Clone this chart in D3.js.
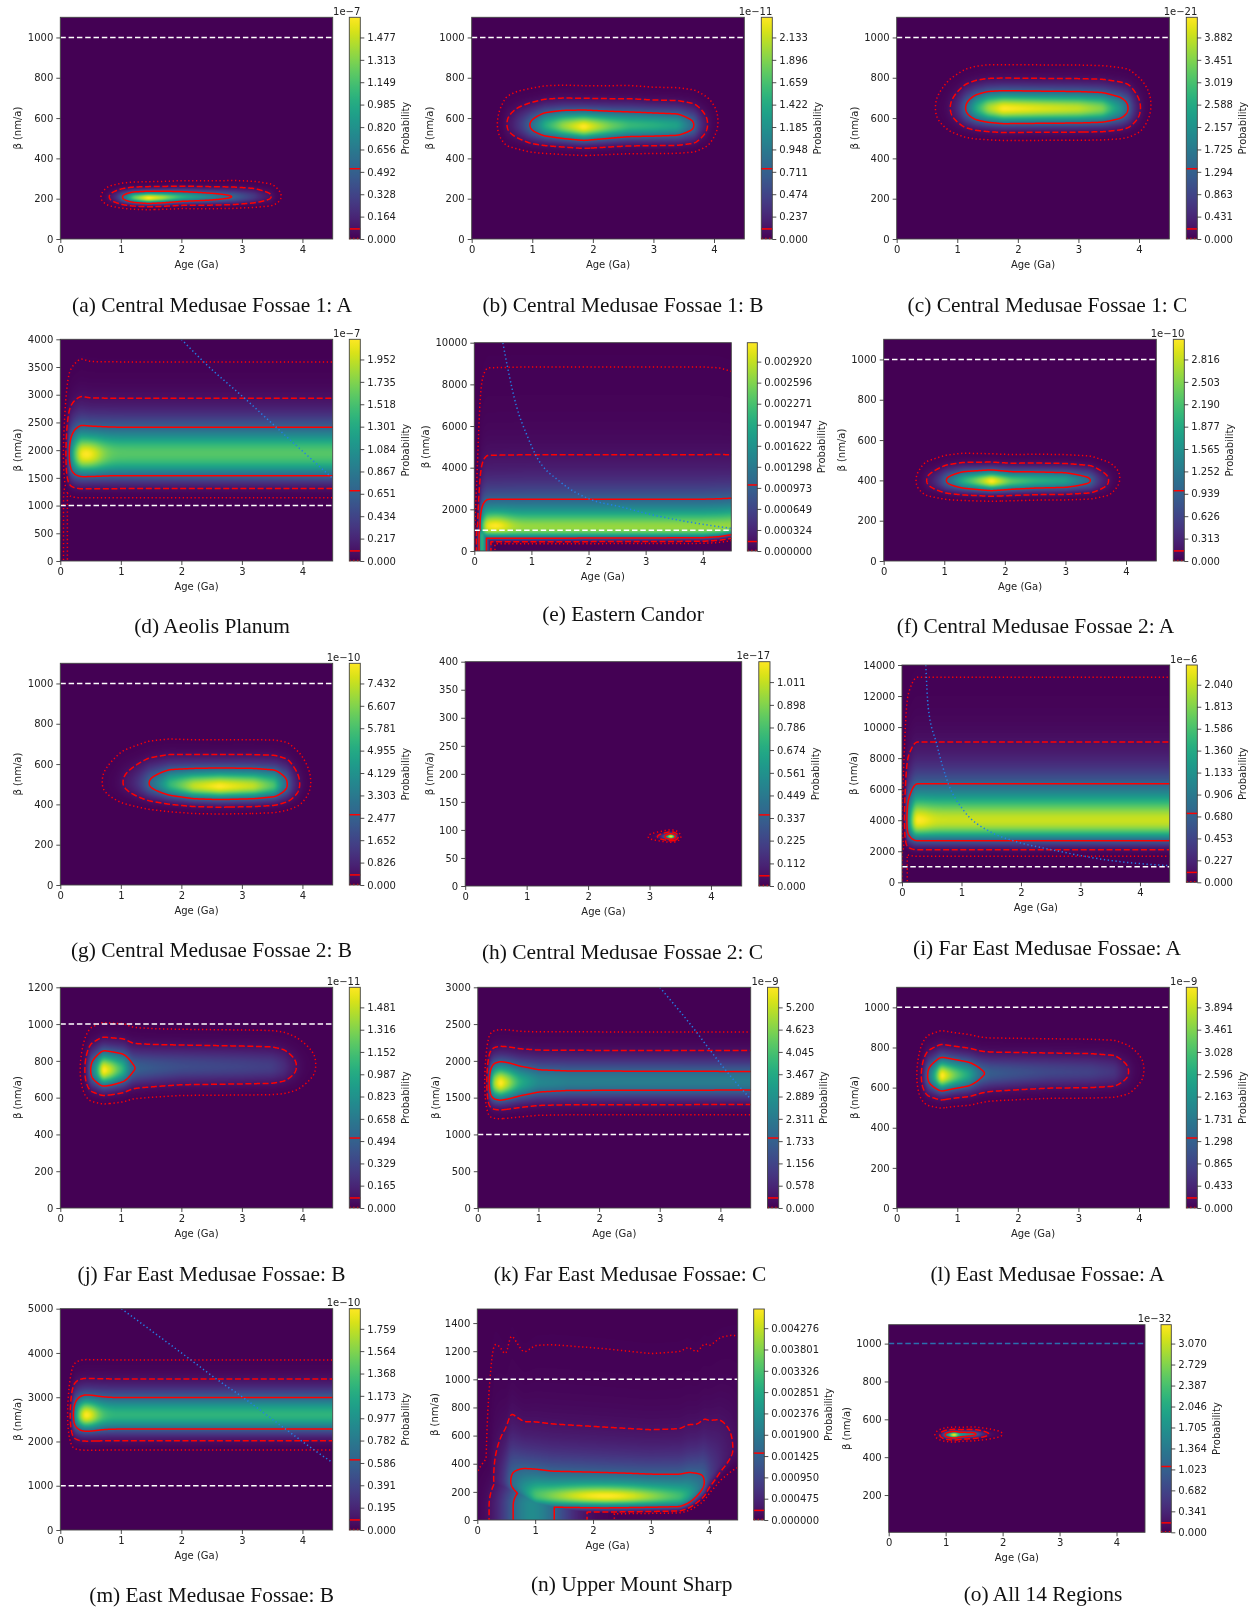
<!DOCTYPE html>
<html>
<head>
<meta charset="utf-8">
<title>Age and beta probability maps</title>
<script src="https://cdn.jsdelivr.net/npm/d3@7"></script>
<style>
  html, body { margin: 0; background: #fff; }
  svg { display: block; filter: blur(0.35px); }
  .axis text, .label, .offset { font-family: "DejaVu Sans", sans-serif; font-size: 10px; fill: #222; }
  .axis line { stroke: #222; stroke-width: 0.8; }
  .axis path { display: none; }
  .caption { font-family: "Liberation Serif", serif; font-size: 21.4px; fill: #111; text-anchor: middle; }
  .frame { fill: none; stroke: #444; stroke-width: 0.9; }
  .level { fill: none; stroke: #f00; stroke-width: 1.5; }
</style>
</head>
<body>
<script>
const captions = [
  '(a) Central Medusae Fossae 1: A', '(b) Central Medusae Fossae 1: B', '(c) Central Medusae Fossae 1: C',
  '(d) Aeolis Planum', '(e) Eastern Candor', '(f) Central Medusae Fossae 2: A',
  '(g) Central Medusae Fossae 2: B', '(h) Central Medusae Fossae 2: C', '(i) Far East Medusae Fossae: A',
  '(j) Far East Medusae Fossae: B', '(k) Far East Medusae Fossae: C', '(l) East Medusae Fossae: A',
  '(m) East Medusae Fossae: B', '(n) Upper Mount Sharp', '(o) All 14 Regions'
];

const ageTicks = [0, 1, 2, 3, 4];
const ageMax = 4.5;
const betaTicks = [
  [0, 200, 400, 600, 800, 1000], [0, 200, 400, 600, 800, 1000], [0, 200, 400, 600, 800, 1000],
  [0, 500, 1000, 1500, 2000, 2500, 3000, 3500, 4000], [0, 2000, 4000, 6000, 8000, 10000], [0, 200, 400, 600, 800, 1000],
  [0, 200, 400, 600, 800, 1000], [0, 50, 100, 150, 200, 250, 300, 350, 400], [0, 2000, 4000, 6000, 8000, 10000, 12000, 14000],
  [0, 200, 400, 600, 800, 1000, 1200], [0, 500, 1000, 1500, 2000, 2500, 3000], [0, 200, 400, 600, 800, 1000],
  [0, 1000, 2000, 3000, 4000, 5000], [0, 200, 400, 600, 800, 1000, 1200, 1400], [200, 400, 600, 800, 1000]
];
const betaDomains = [
  [0, 1100], [0, 1100], [0, 1100], [0, 4000], [0, 10000], [0, 1100], [0, 1100], [0, 400],
  [0, 14000], [0, 1200], [0, 3000], [0, 1100], [0, 5000], [0, 1500], [3, 1100]
];

const barTicks = [
  ['0.000', '0.164', '0.328', '0.492', '0.656', '0.820', '0.985', '1.149', '1.313', '1.477'],
  ['0.000', '0.237', '0.474', '0.711', '0.948', '1.185', '1.422', '1.659', '1.896', '2.133'],
  ['0.000', '0.431', '0.863', '1.294', '1.725', '2.157', '2.588', '3.019', '3.451', '3.882'],
  ['0.000', '0.217', '0.434', '0.651', '0.867', '1.084', '1.301', '1.518', '1.735', '1.952'],
  ['0.000000', '0.000324', '0.000649', '0.000973', '0.001298', '0.001622', '0.001947', '0.002271', '0.002596', '0.002920'],
  ['0.000', '0.313', '0.626', '0.939', '1.252', '1.565', '1.877', '2.190', '2.503', '2.816'],
  ['0.000', '0.826', '1.652', '2.477', '3.303', '4.129', '4.955', '5.781', '6.607', '7.432'],
  ['0.000', '0.112', '0.225', '0.337', '0.449', '0.561', '0.674', '0.786', '0.898', '1.011'],
  ['0.000', '0.227', '0.453', '0.680', '0.906', '1.133', '1.360', '1.586', '1.813', '2.040'],
  ['0.000', '0.165', '0.329', '0.494', '0.658', '0.823', '0.987', '1.152', '1.316', '1.481'],
  ['0.000', '0.578', '1.156', '1.733', '2.311', '2.889', '3.467', '4.045', '4.623', '5.200'],
  ['0.000', '0.433', '0.865', '1.298', '1.731', '2.163', '2.596', '3.028', '3.461', '3.894'],
  ['0.000', '0.195', '0.391', '0.586', '0.782', '0.977', '1.173', '1.368', '1.564', '1.759'],
  ['0.000000', '0.000475', '0.000950', '0.001425', '0.001900', '0.002376', '0.002851', '0.003326', '0.003801', '0.004276'],
  ['0.000', '0.341', '0.682', '1.023', '1.364', '1.705', '2.046', '2.387', '2.729', '3.070']
];
const barOffsets = ['1e\u22127', '1e\u221211', '1e\u221221', '1e\u22127', '', '1e\u221210', '1e\u221210', '1e\u221217',
  '1e\u22126', '1e\u221211', '1e\u22129', '1e\u22129', '1e\u221210', '', '1e\u221232'];

// contour levels as a share of the map maximum: solid, dashed, dotted
const levels = [0.317, 0.0455, 0.0027];

// ridge of each map, one row per age: age, peak share, beta, log width below, log width above
const ridgeA = [[.55, 1e-4, 210, .1, .093], [.67, .0027, 210, .1, .093], [.8, .0455, 210, .1, .093], [1.03, .33, 208, .1, .093], [1.2, .72, 207, .1, .093], [1.45, 1, 205, .1, .095], [1.7, .85, 207, .1, .095], [2, .62, 210, .1, .097], [2.5, .42, 210, .105, .1], [2.87, .3, 210, .105, .105], [3.2, .16, 212, .105, .105], [3.5, .045, 212, .105, .105], [3.65, .0027, 212, .105, .105], [3.8, 1e-4, 212, .105, .105]];
const ridgeB = [[.3, 1e-4, 570, .087, .09], [.42, .0027, 570, .087, .09], [.57, .0455, 570, .087, .09], [.75, .13, 570, .087, .09], [.97, .33, 565, .087, .09], [1.2, .6, 565, .087, .09], [1.5, .82, 563, .087, .09], [1.85, 1, 558, .087, .09], [2.3, .76, 562, .087, .09], [2.6, .66, 565, .087, .09], [3, .62, 565, .087, .087], [3.4, .56, 565, .087, .087], [3.68, .317, 565, .087, .087], [3.9, .0455, 570, .087, .087], [4.07, .0027, 585, .087, .087], [4.2, 1e-4, 585, .087, .087]];
const ridgeC = [[.5, 1e-4, 648, .082, .084], [.63, .0027, 650, .082, .084], [.88, .0455, 650, .082, .084], [1.13, .317, 650, .082, .084], [1.3, .6, 650, .082, .084], [1.5, .85, 650, .082, .084], [1.75, 1, 648, .082, .084], [2.4, .94, 648, .082, .084], [3, .9, 648, .082, .084], [3.4, .8, 648, .082, .084], [3.7, .5, 648, .082, .084], [3.83, .317, 650, .082, .084], [4.03, .0455, 650, .082, .084], [4.2, .0027, 665, .082, .084], [4.35, 1e-4, 665, .082, .084]];
const ridgeD = [[.02, 1e-4, 1950, .2, .155], [.05, .0027, 1950, .2, .155], [.085, .0455, 1950, .2, .155], [.13, .317, 1950, .2, .155], [.22, .62, 1950, .2, .155], [.33, .8, 1950, .2, .158], [.5, .78, 1950, .2, .155], [1, .76, 1950, .2, .155], [4.5, .76, 1950, .2, .155]];
const ridgeE = [[.005, .001, 1150, .56, .52], [.03, .0027, 1150, .56, .52], [.06, .1, 1150, .56, .52], [.1, .5, 1150, .56, .52], [.2, .8, 1150, .56, .52], [1, .82, 1150, .56, .52], [4, .82, 1150, .52, .52], [4.3, .82, 1170, .45, .515], [4.5, .82, 1200, .35, .505]];
const ridgeF = [[.4, 1e-4, 400, .087, .088], [.53, .0027, 400, .087, .088], [.7, .0455, 400, .087, .088], [1.03, .317, 400, .087, .088], [1.3, .6, 400, .087, .088], [1.78, 1, 397, .085, .085], [2.1, .72, 397, .085, .085], [2.5, .62, 400, .085, .085], [3, .55, 400, .085, .085], [3.42, .317, 400, .085, .085], [3.72, .0455, 400, .085, .085], [3.9, .0027, 412, .085, .085], [4.05, 1e-4, 412, .085, .085]];
const ridgeG = [[.55, 1e-4, 510, .096, .112], [.68, .0027, 510, .096, .112], [1.03, .0455, 510, .096, .112], [1.46, .317, 505, .096, .112], [1.8, .65, 500, .096, .112], [2.2, .9, 492, .096, .112], [2.63, 1, 490, .096, .112], [3.2, .9, 492, .096, .112], [3.55, .7, 495, .096, .112], [3.76, .317, 500, .096, .112], [3.96, .0455, 500, .096, .112], [4.14, .0027, 510, .096, .112], [4.3, 1e-4, 510, .096, .112]];
const ridgeH = [[2.9, 1e-4, 88, .035, .037], [2.98, .0027, 88, .035, .037], [3.15, .0455, 88, .035, .037], [3.27, .317, 88, .035, .037], [3.35, 1, 88, .035, .037], [3.42, .317, 88, .035, .037], [3.47, .0455, 88, .035, .037], [3.5, .0027, 88, .035, .037], [3.55, 1e-4, 88, .035, .037]];
const ridgeI = [[.005, .001, 4000, .29, .295], [.02, .0027, 4000, .29, .295], [.035, .0455, 4000, .29, .295], [.05, .317, 4000, .29, .295], [.1, .45, 4000, .29, .295], [.16, .7, 4000, .29, .295], [.22, .92, 4000, .29, .295], [4.5, .92, 4000, .29, .295]];
const ridgeJ = [[.25, 1e-4, 750, .082, .086], [.33, .0027, 750, .082, .086], [.4, .0455, 750, .082, .086], [.49, .317, 750, .082, .086], [.7, 1, 750, .082, .086], [.85, .85, 752, .082, .085], [1.05, .6, 757, .082, .085], [1.19, .317, 760, .08, .083], [1.3, .28, 762, .08, .082], [1.6, .25, 765, .078, .08], [2, .22, 770, .077, .078], [3, .19, 770, .077, .078], [3.5, .17, 770, .077, .078], [3.7, .12, 770, .077, .078], [3.9, .0455, 770, .077, .078], [4.23, .0027, 780, .077, .078], [4.35, 1e-4, 780, .077, .078]];
const ridgeK = [[.08, 1e-4, 1700, .098, .103], [.12, .0027, 1700, .098, .103], [.14, .0455, 1700, .098, .103], [.17, .317, 1700, .098, .103], [.25, .8, 1700, .098, .103], [.37, 1, 1700, .098, .103], [.5, .85, 1705, .098, .103], [.7, .6, 1710, .098, .103], [1, .45, 1715, .096, .104], [1.5, .41, 1720, .096, .104], [4.5, .4, 1720, .096, .104]];
const ridgeL = [[.27, 1e-4, 660, .082, .085], [.33, .0027, 660, .082, .085], [.4, .0455, 660, .082, .085], [.5, .317, 660, .082, .085], [.73, 1, 660, .082, .085], [.95, .75, 663, .08, .082], [1.2, .55, 665, .08, .08], [1.4, .317, 670, .078, .077], [1.55, .27, 672, .076, .076], [1.9, .24, 675, .075, .075], [2.5, .2, 680, .074, .073], [3.2, .18, 680, .074, .073], [3.6, .14, 680, .074, .073], [3.83, .0455, 680, .074, .073], [4.09, .0027, 690, .074, .073], [4.2, 1e-4, 690, .074, .073]];
const ridgeM = [[.08, 1e-4, 2600, .11, .118], [.12, .0027, 2600, .11, .118], [.16, .0455, 2600, .11, .118], [.2, .317, 2600, .11, .118], [.3, .6, 2600, .11, .118], [.4, .72, 2600, .11, .118], [.6, .7, 2600, .11, .118], [.9, .68, 2600, .11, .118], [4.5, .68, 2600, .11, .118]];
const ridgeN = [[.1, 1e-4, 300, .3, .7], [.13, .0027, 300, .3, .7], [.27, .0455, 300, .3, .6], [.5, .2, 290, .3, .47], [.57, .317, 285, .35, .5], [.8, .45, 240, .5, .5], [1, .55, 200, .8, .56], [1.3, .55, 185, .88, .585], [2.2, .55, 175, .88, .595], [3, .55, 170, .75, .595], [3.5, .55, 172, .7, .595], [3.65, .5, 195, .55, .57], [3.8, .4, 230, .37, .52], [3.93, .317, 270, .27, .5], [4, .2, 320, .22, .46], [4.2, .1, 420, .17, .42], [4.4, .05, 500, .17, .4], [4.5, .03, 520, .17, .418]];
const ridgeO = [[.75, 1e-4, 518, .022, .022], [.81, .0027, 518, .022, .022], [.9, .0455, 518, .022, .022], [.99, .317, 518, .022, .022], [1.15, 1, 518, .022, .022], [1.25, .45, 519, .022, .022], [1.4, .38, 521, .022, .022], [1.515, .317, 522, .022, .022], [1.74, .0455, 522, .022, .022], [2, .0027, 522, .022, .022], [2.1, 1e-4, 522, .022, .022]];
const ridges = [ridgeA, ridgeB, ridgeC, ridgeD, ridgeE, ridgeF, ridgeG, ridgeH, ridgeI, ridgeJ, ridgeK, ridgeL, ridgeM, ridgeN, ridgeO];

// young-age strips reaching beta = 0: age, width left, width right, beta top, fade, share
const strips = { 3: [.085, .02, .02, 1100, 150, .01], 4: [.13, .04, .07, 700, 400, .62], 8: [.045, .025, .025, 1700, 300, .012], 13: [.92, .33, .45, 100, 150, .48] };

// brighter spots inside the solid contour: age, age width, beta, log beta width, boost
const hotSpots = { 3: [.45, .18, 1900, .12, .32], 4: [.36, .2, 1300, .3, .22], 8: [.28, .15, 3950, .2, .087], 12: [.43, .15, 2575, .12, .47], 13: [2.2, .85, 170, .3, .82] };

// how the log width grows with distance from the ridge: below, above
const tails = { 3: [-.375, .29], 4: [-.31, .077], 8: [-.14, .156], 13: [-.375, 0] };

// blue dotted limit lines
const limitLines = {
  3: [[2, 4000], [2.41, 3550], [3.05, 2930], [3.56, 2420], [4.5, 1490]],
  4: [[.5, 10000], [.58, 8850], [.74, 6930], [.92, 5570], [1.09, 4530], [1.5, 3330], [2.03, 2480], [2.55, 2130], [3.13, 1730], [3.72, 1410], [4.5, 1085]],
  8: [[.4, 14000], [.44, 11300], [.58, 8950], [.78, 6330], [1.03, 4660], [1.48, 3260], [1.87, 2680], [2.54, 2080], [3.44, 1440], [4.5, 1065]],
  10: [[3, 3000], [3.6, 2397], [3.84, 2134], [4.2, 1760], [4.5, 1480]],
  12: [[1.01, 5000], [2.12, 3880], [2.58, 3410], [3, 3012], [3.74, 2260], [4.18, 1822], [4.5, 1520]]
};

// left, top, right, bottom, bar left, bar right, caption x, caption baseline
const boxes = [
  [60.3, 17.3, 332.7, 239, 349.3, 360.3, 212, 311.5],
  [471.7, 17.3, 744.3, 239, 761.3, 772.3, 623, 311.5],
  [896.7, 17.3, 1169.3, 239, 1186.3, 1197.3, 1047.5, 311.5],
  [60.3, 339.3, 332.7, 561, 349.3, 360.3, 212, 633],
  [474.3, 342.7, 731.3, 551, 747.3, 757.3, 623, 621],
  [883.7, 339.3, 1156.3, 561, 1173.3, 1184.3, 1035.5, 633],
  [60.3, 663.3, 332.7, 885, 349.3, 360.3, 211.5, 957],
  [465.2, 661.7, 741.7, 886, 758.8, 770, 622.5, 959],
  [902, 665, 1169.7, 882.3, 1186.3, 1197.3, 1047, 955],
  [60.3, 987.3, 332.7, 1208, 349.3, 360.3, 211.5, 1281],
  [477.8, 987.3, 750.7, 1208, 767.5, 778.7, 630, 1281],
  [896.7, 987.3, 1169.3, 1208, 1186.3, 1197.3, 1047.5, 1281],
  [60.3, 1308.7, 332.7, 1530, 349.3, 360.3, 211.7, 1602],
  [477.3, 1309, 737.7, 1520, 753.7, 764.3, 631.7, 1591],
  [888.7, 1324.7, 1145, 1532.3, 1161, 1171.3, 1043, 1601]
];

const styles = [null, '6 2.6', '1.3 2.6'];
const viridisTable = d3.range(256).map(i => d3.rgb(d3.interpolateViridis(i / 255)));

const svg = d3.select('body').append('svg').attr('width', 1255).attr('height', 1608);
const defs = svg.append('defs');

defs.append('linearGradient')
  .attr('id', 'barFill').attr('x1', 0).attr('x2', 0).attr('y1', 1).attr('y2', 0)
  .selectAll('stop').data(d3.range(33)).join('stop')
  .attr('offset', i => i / 32)
  .attr('stop-color', i => d3.interpolateViridis(i / 32));

// column tables of one ridge, lightly smoothed along age
function ridgeColumns(rows, ages) {
  const knots = rows.map(r => r[0]);
  const lookup = values => d3.scaleLinear().domain(knots).range(values).clamp(true);
  const peak = lookup(rows.map(r => Math.log(r[1])));
  const beta = lookup(rows.map(r => Math.log(r[2])));
  const low = lookup(rows.map(r => r[3]));
  const high = lookup(rows.map(r => r[4]));
  const table = fn => d3.blur(Float64Array.from(ages, fn), 3);
  return { peak: table(peak), beta: table(beta), low: table(low), high: table(high) };
}

function buildField(index, x, y, w, h, margin) {
  const nx = Math.round(w * 2) + margin * 2;
  const ny = Math.round(h * 2) + margin * 2;
  const ages = d3.range(nx).map(i => x.invert((i + 0.5 - margin) / 2));
  const betas = d3.range(ny).map(j => y.invert((j + 0.5 - margin) / 2));
  const cols = ridgeColumns(ridges[index], ages);
  const strip = strips[index];
  const spot = hotSpots[index];
  const tail = tails[index] || [0, 0];
  const values = new Float64Array(nx * ny);
  let top = 0;

  for (let j = 0; j < ny; j++) {
    const logBeta = Math.log(Math.max(betas[j], 1));
    for (let i = 0; i < nx; i++) {
      const z = logBeta - cols.beta[i];
      const s = z < 0
        ? cols.low[i] * Math.max(1 + tail[0] * -z, 0.3)
        : cols.high[i] * Math.max(1 + tail[1] * z, 0.3);
      let v = Math.exp(cols.peak[i] - 0.5 * (z / s) * (z / s));
      if (spot) {
        const da = (ages[i] - spot[0]) / spot[1];
        const db = (logBeta - Math.log(spot[2])) / spot[3];
        v *= 1 + spot[4] * Math.exp(-0.5 * (da * da + db * db));
      }
      if (strip) {
        const da = ages[i] - strip[0];
        const sa = da < 0 ? strip[1] : strip[2];
        const over = Math.max(betas[j] - strip[3], 0) / strip[4];
        v = Math.max(v, strip[5] * Math.exp(-0.5 * (da / sa) * (da / sa) - 0.5 * over * over));
      }
      values[j * nx + i] = v;
      if (v > top) top = v;
    }
  }
  for (let k = 0; k < values.length; k++) values[k] /= top;
  return { values, nx, ny };
}

function heatImage(field, margin) {
  const cw = field.nx - margin * 2;
  const ch = field.ny - margin * 2;
  const canvas = document.createElement('canvas');
  canvas.width = cw;
  canvas.height = ch;
  const ctx = canvas.getContext('2d');
  const img = ctx.createImageData(cw, ch);
  for (let j = 0; j < ch; j++) {
    for (let i = 0; i < cw; i++) {
      const c = viridisTable[Math.round(field.values[(j + margin) * field.nx + i + margin] * 255)];
      const p = (j * cw + i) * 4;
      img.data[p] = c.r;
      img.data[p + 1] = c.g;
      img.data[p + 2] = c.b;
      img.data[p + 3] = 255;
    }
  }
  ctx.putImageData(img, 0, 0);
  return canvas.toDataURL();
}

captions.forEach((caption, index) => {
  const [left, top, right, bottom, barLeft, barRight, capX, capY] = boxes[index];
  const w = right - left;
  const h = bottom - top;
  const margin = 6;
  const x = d3.scaleLinear().domain([0, ageMax]).range([0, w]);
  const y = d3.scaleLinear().domain(betaDomains[index]).range([h, 0]);
  const panel = svg.append('g').attr('transform', `translate(${left},${top})`);
  const clipId = `clip-${index}`;

  defs.append('clipPath').attr('id', clipId).append('rect').attr('width', w).attr('height', h);

  const field = buildField(index, x, y, w, h, margin);
  panel.append('image')
    .attr('href', heatImage(field, margin))
    .attr('width', w).attr('height', h)
    .attr('preserveAspectRatio', 'none');

  const marks = panel.append('g').attr('clip-path', `url(#${clipId})`);
  const toPlot = d3.geoPath(d3.geoTransform({
    point(px, py) { this.stream.point((px - margin) / 2, (py - margin) / 2); }
  }));
  const contours = d3.contours().size([field.nx, field.ny]).thresholds(levels)(field.values);

  marks.selectAll('path.level').data(contours).join('path')
    .attr('class', 'level')
    .attr('d', toPlot)
    .attr('stroke-dasharray', d => styles[levels.indexOf(d.value)]);

  marks.append('line')
    .attr('x1', 0).attr('x2', w)
    .attr('y1', y(1000)).attr('y2', y(1000))
    .attr('stroke', index === 14 ? '#2a6fae' : '#fff')
    .attr('stroke-width', 1.5)
    .attr('stroke-dasharray', '5.5 2.8');

  if (limitLines[index]) {
    marks.append('path')
      .datum(limitLines[index])
      .attr('fill', 'none')
      .attr('stroke', '#2280e6')
      .attr('stroke-width', 1.5)
      .attr('stroke-dasharray', '1.3 2.6')
      .attr('d', d3.line().x(d => x(d[0])).y(d => y(d[1])).curve(d3.curveMonotoneX));
  }

  panel.append('rect').attr('class', 'frame').attr('width', w).attr('height', h);

  panel.append('g').attr('class', 'axis')
    .attr('transform', `translate(0,${h})`)
    .call(d3.axisBottom(x).tickValues(ageTicks).tickFormat(d3.format('d')).tickSize(4).tickPadding(3));

  const yAxis = panel.append('g').attr('class', 'axis')
    .call(d3.axisLeft(y).tickValues(betaTicks[index]).tickFormat(d3.format('d')).tickSize(4).tickPadding(3));

  panel.append('text').attr('class', 'label')
    .attr('text-anchor', 'middle')
    .attr('x', w / 2).attr('y', h + 29)
    .text('Age (Ga)');

  panel.append('text').attr('class', 'label')
    .attr('text-anchor', 'middle')
    .attr('transform', `translate(${yAxis.node().getBBox().x - 6.5},${h / 2}) rotate(-90)`)
    .text('\u03b2 (nm/a)');

  // colour bar
  const bar = svg.append('g').attr('transform', `translate(${barLeft},${top})`);
  const barW = barRight - barLeft;
  const tickValues = barTicks[index].map(Number);
  const barMax = tickValues[tickValues.length - 1] * 1.1;
  const barY = d3.scaleLinear().domain([0, barMax]).range([h, 0]);

  bar.append('rect').attr('width', barW).attr('height', h).attr('fill', 'url(#barFill)');

  bar.selectAll('line.level').data(levels).join('line')
    .attr('class', 'level')
    .attr('x1', 0).attr('x2', barW)
    .attr('y1', d => barY(d * barMax)).attr('y2', d => barY(d * barMax))
    .attr('stroke-dasharray', (d, i) => i === 2 ? '1.3 2.6' : null);

  bar.append('rect').attr('class', 'frame').attr('width', barW).attr('height', h);

  const barAxis = bar.append('g').attr('class', 'axis')
    .attr('transform', `translate(${barW},0)`)
    .call(d3.axisRight(barY).tickValues(tickValues).tickFormat((d, i) => barTicks[index][i]).tickSize(4).tickPadding(3));

  bar.append('text').attr('class', 'label')
    .attr('text-anchor', 'middle')
    .attr('transform', `translate(${barW + barAxis.node().getBBox().width + 13},${h / 2}) rotate(-90)`)
    .text('Probability');

  if (barOffsets[index]) {
    bar.append('text').attr('class', 'offset')
      .attr('text-anchor', 'end')
      .attr('x', barW).attr('y', -2.5)
      .text(barOffsets[index]);
  }

  svg.append('text').attr('class', 'caption').attr('x', capX).attr('y', capY).text(caption);
});
</script>
</body>
</html>
